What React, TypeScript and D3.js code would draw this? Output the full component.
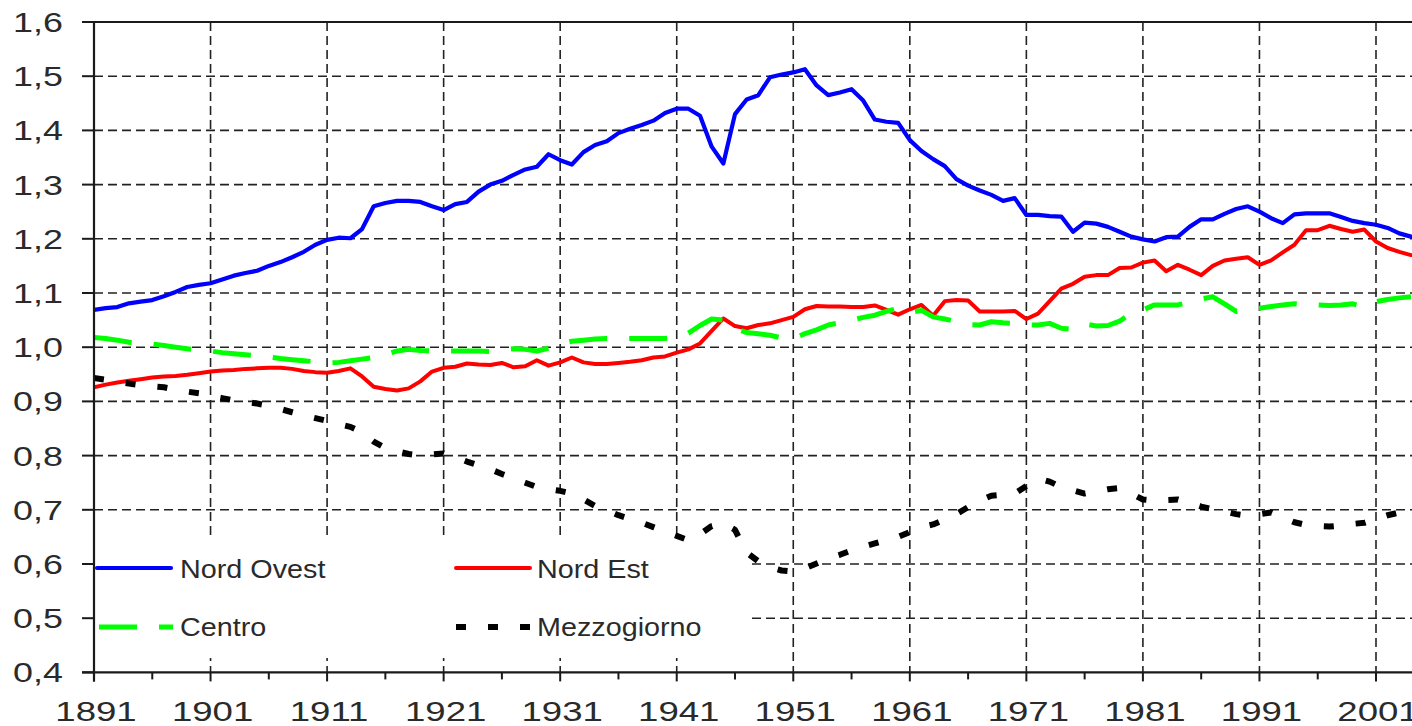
import React from 'react';
import * as d3 from 'd3';

const START_YEAR = 1891;

const nordOvest = [
  1.069, 1.072, 1.074, 1.081, 1.084, 1.087, 1.094, 1.102, 1.111, 1.115,
  1.118, 1.125, 1.132, 1.137, 1.141, 1.150, 1.157, 1.166, 1.176, 1.189,
  1.198, 1.202, 1.201, 1.218, 1.260, 1.266, 1.270, 1.270, 1.268, 1.260,
  1.253, 1.264, 1.268, 1.287, 1.300, 1.307, 1.318, 1.328, 1.333, 1.356,
  1.345, 1.337, 1.360, 1.373, 1.380, 1.395, 1.403, 1.410, 1.418, 1.432,
  1.440, 1.440, 1.427, 1.370, 1.339, 1.430, 1.457, 1.465, 1.498, 1.503,
  1.507, 1.513, 1.483, 1.465, 1.470, 1.476, 1.455, 1.420, 1.416, 1.414,
  1.382, 1.362, 1.347, 1.334, 1.310, 1.298, 1.289, 1.281, 1.270, 1.275,
  1.244, 1.244, 1.242, 1.241, 1.213, 1.230, 1.228, 1.222, 1.213, 1.204,
  1.199, 1.195, 1.203, 1.204, 1.222, 1.236, 1.236, 1.246, 1.255, 1.260,
  1.250, 1.238, 1.229, 1.245, 1.247, 1.247, 1.247, 1.240, 1.233, 1.229,
  1.226, 1.220, 1.210, 1.204,
];

const nordEst = [
  0.926, 0.931, 0.935, 0.938, 0.941, 0.944, 0.946, 0.947, 0.949, 0.952,
  0.955, 0.957, 0.958, 0.960, 0.961, 0.962, 0.962, 0.960, 0.956, 0.954,
  0.953, 0.956, 0.961, 0.946, 0.927, 0.923, 0.920, 0.924, 0.937, 0.955,
  0.962, 0.964, 0.970, 0.968, 0.967, 0.971, 0.963, 0.965, 0.976, 0.966,
  0.972, 0.981, 0.972, 0.969, 0.969, 0.971, 0.973, 0.976, 0.981, 0.983,
  0.990, 0.996, 1.007, 1.030, 1.053, 1.039, 1.035, 1.041, 1.044, 1.050,
  1.056, 1.070, 1.076, 1.075, 1.075, 1.074, 1.074, 1.077, 1.069, 1.060,
  1.070, 1.078, 1.058, 1.085, 1.087, 1.086, 1.066, 1.066, 1.066, 1.067,
  1.052, 1.062, 1.085, 1.108, 1.117, 1.130, 1.133, 1.133, 1.146, 1.147,
  1.156, 1.160, 1.140, 1.152, 1.143, 1.133, 1.150, 1.160, 1.163, 1.166,
  1.152, 1.160, 1.175, 1.189, 1.216, 1.216, 1.224, 1.218, 1.213, 1.217,
  1.195, 1.183, 1.176, 1.170,
];

const centro = [
  1.018, 1.016, 1.013, 1.009, 1.007, 1.006, 1.003, 1.000, 0.997, 0.995,
  0.993, 0.990, 0.988, 0.986, 0.984, 0.982, 0.979, 0.977, 0.975, 0.973,
  0.971, 0.972, 0.975, 0.978, 0.981, 0.987, 0.993, 0.996, 0.994, 0.993,
  0.993, 0.993, 0.993, 0.993, 0.992, 0.995, 0.997, 0.996, 0.993, 0.998,
  1.007, 1.011, 1.013, 1.015, 1.016, 1.016, 1.016, 1.016, 1.016, 1.016,
  1.018, 1.026, 1.040, 1.052, 1.050, 1.035, 1.027, 1.025, 1.022, 1.017,
  1.016, 1.025, 1.032, 1.041, 1.045, 1.050, 1.055, 1.059, 1.066, 1.072,
  1.064, 1.068, 1.056, 1.052, 1.047, 1.042, 1.041, 1.047, 1.045, 1.044,
  1.041, 1.041, 1.044, 1.035, 1.033, 1.043, 1.039, 1.040, 1.048, 1.063,
  1.069, 1.078, 1.078, 1.078, 1.083, 1.089, 1.093, 1.080, 1.066, 1.070,
  1.072, 1.075, 1.078, 1.080, 1.078, 1.078, 1.077, 1.078, 1.080, 1.074,
  1.084, 1.088, 1.091, 1.093,
];

const mezzogiorno = [
  0.943, 0.940, 0.936, 0.933, 0.930, 0.928, 0.926, 0.922, 0.918, 0.915,
  0.910, 0.906, 0.902, 0.899, 0.896, 0.892, 0.886, 0.880, 0.874, 0.869,
  0.864, 0.858, 0.853, 0.843, 0.826, 0.814, 0.808, 0.803, 0.800, 0.802,
  0.804, 0.797, 0.789, 0.782, 0.775, 0.766, 0.758, 0.750, 0.742, 0.738,
  0.735, 0.730, 0.719, 0.707, 0.699, 0.690, 0.683, 0.676, 0.668, 0.660,
  0.652, 0.644, 0.655, 0.670, 0.675, 0.663, 0.621, 0.605, 0.594, 0.588,
  0.586, 0.592, 0.601, 0.610, 0.617, 0.625, 0.632, 0.638, 0.644, 0.650,
  0.659, 0.668, 0.673, 0.682, 0.692, 0.705, 0.717, 0.726, 0.728, 0.730,
  0.744, 0.758, 0.752, 0.742, 0.736, 0.730, 0.734, 0.738, 0.740, 0.730,
  0.719, 0.717, 0.718, 0.719, 0.713, 0.706, 0.701, 0.697, 0.692, 0.689,
  0.692, 0.695, 0.686, 0.677, 0.672, 0.670, 0.669, 0.671, 0.674, 0.676,
  0.683, 0.690, 0.695, 0.697,
];

const yTickValues = [0.4, 0.5, 0.6, 0.7, 0.8, 0.9, 1.0, 1.1, 1.2, 1.3, 1.4, 1.5, 1.6];
const xLabelYears = [1891, 1901, 1911, 1921, 1931, 1941, 1951, 1961, 1971, 1981, 1991, 2001];
const xMinorYears = [1896, 1906, 1916, 1926, 1936, 1946, 1956, 1966, 1976, 1986, 1996];

const W = 1412;
const H = 726;
const LEFT = 94;
const TOP = 22;
const BOTTOM = 672.4;

const x = d3.scaleLinear().domain([1891, 2001]).range([LEFT, 1376]);
const y = d3.scaleLinear().domain([0.4, 1.6]).range([BOTTOM, TOP]);

const fmt = (v: number) => d3.format('.1f')(v).replace('.', ',');

const seriesDefs = [
  { name: 'Nord Ovest', values: nordOvest, color: '#0000ff', width: 4.2, dash: undefined as string | undefined },
  { name: 'Nord Est', values: nordEst, color: '#ff0000', width: 4, dash: undefined as string | undefined },
  { name: 'Centro', values: centro, color: '#00ff00', width: 5, dash: '38 22' },
  { name: 'Mezzogiorno', values: mezzogiorno, color: '#000000', width: 6, dash: '10 22' },
];

const GRID = '#222';
const AXIS = '#1a1a1a';
const TXT = '#2a2a2a';

function SText({ x0, y0, sx, size, anchor, children }: any) {
  return (
    <text
      transform={`translate(${x0},${y0}) scale(${sx},1)`}
      textAnchor={anchor}
      fontFamily="'Liberation Sans', Arial, sans-serif"
      fontSize={size}
      fill={TXT}
    >
      {children}
    </text>
  );
}

export default function App() {
  const line = d3
    .line<number>()
    .x((_, i) => x(START_YEAR + i))
    .y((d) => y(d));

  const legendItems = [
    { s: seriesDefs[0], lx: 97, ly: 568, tx: 180, ty: 578 },
    { s: seriesDefs[1], lx: 456, ly: 568, tx: 537, ty: 578 },
    { s: seriesDefs[2], lx: 99, ly: 627, tx: 180, ty: 636 },
    { s: seriesDefs[3], lx: 456, ly: 627, tx: 537, ty: 636 },
  ];

  return (
    <svg
      width={W}
      height={H}
      style={{ position: 'absolute', left: 0, top: 0, display: 'block', background: '#fff' }}
    >
      <defs>
        <clipPath id="plot">
          <rect x={LEFT} y={TOP - 4} width={W - LEFT} height={BOTTOM - TOP + 4} />
        </clipPath>
      </defs>

      {/* horizontal gridlines */}
      {yTickValues
        .filter((v) => v > 0.45 && v < 1.55)
        .map((v) => (
          <line
            key={'hg' + v}
            x1={LEFT}
            x2={W}
            y1={y(v)}
            y2={y(v)}
            stroke={GRID}
            strokeWidth={1.6}
            strokeDasharray="9 5"
          />
        ))}
      {/* vertical gridlines */}
      {xLabelYears
        .filter((yr) => yr > 1891)
        .map((yr) => (
          <line
            key={'vg' + yr}
            x1={x(yr)}
            x2={x(yr)}
            y1={TOP}
            y2={BOTTOM}
            stroke={GRID}
            strokeWidth={1.6}
            strokeDasharray="9 5"
          />
        ))}

      {/* legend background */}
      <rect x={LEFT + 1} y={540} width={652} height={118} fill="#fff" />

      {/* series */}
      <g clipPath="url(#plot)">
        {seriesDefs.map((s) => (
          <path
            key={s.name}
            d={line(s.values) || ''}
            fill="none"
            stroke={s.color}
            strokeWidth={s.width}
            strokeDasharray={s.dash}
            strokeLinejoin="round"
            strokeLinecap={s.dash ? 'butt' : 'round'}
          />
        ))}
      </g>

      {/* axes */}
      <line x1={LEFT - 12} x2={W} y1={TOP} y2={TOP} stroke={AXIS} strokeWidth={2.2} />
      <line x1={LEFT - 12} x2={W} y1={BOTTOM} y2={BOTTOM} stroke={AXIS} strokeWidth={2.2} />
      <line x1={LEFT} x2={LEFT} y1={TOP} y2={BOTTOM + 9} stroke={AXIS} strokeWidth={2.2} />
      {yTickValues.map((v) => (
        <line key={'yt' + v} x1={LEFT - 12} x2={LEFT} y1={y(v)} y2={y(v)} stroke={AXIS} strokeWidth={2} />
      ))}
      {xLabelYears.map((yr) => (
        <line key={'xt' + yr} x1={x(yr)} x2={x(yr)} y1={BOTTOM} y2={BOTTOM + 9} stroke={AXIS} strokeWidth={2} />
      ))}
      {xMinorYears.map((yr) => (
        <line key={'xm' + yr} x1={x(yr)} x2={x(yr)} y1={BOTTOM} y2={BOTTOM + 7} stroke={AXIS} strokeWidth={2} />
      ))}

      {/* tick labels */}
      {yTickValues.map((v) => (
        <SText key={'yl' + v} x0={63} y0={y(v) + 10} sx={1.33} size={27} anchor="end">
          {fmt(v)}
        </SText>
      ))}
      {xLabelYears.map((yr) => (
        <SText key={'xl' + yr} x0={x(yr) + 2} y0={721} sx={1.33} size={27.5} anchor="middle">
          {String(yr)}
        </SText>
      ))}

      {/* legend */}
      {legendItems.map(({ s, lx, ly, tx, ty }) => (
        <g key={'lg' + s.name}>
          <line
            x1={lx}
            x2={lx + 74}
            y1={ly}
            y2={ly}
            stroke={s.color}
            strokeWidth={s.width}
            strokeDasharray={s.dash}
            strokeLinecap={s.dash ? 'butt' : 'round'}
          />
          <SText x0={tx} y0={ty} sx={1.15} size={25} anchor="start">
            {s.name}
          </SText>
        </g>
      ))}
    </svg>
  );
}
